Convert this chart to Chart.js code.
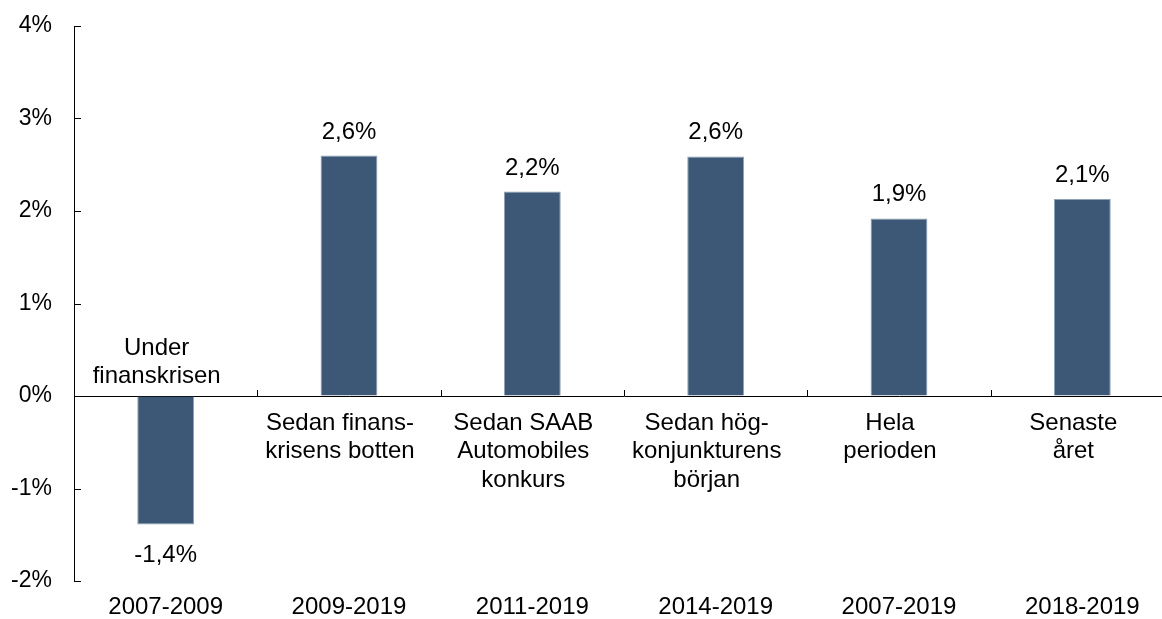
<!DOCTYPE html>
<html>
<head>
<meta charset="utf-8">
<script src="https://cdn.jsdelivr.net/npm/chart.js@4.4.1/dist/chart.umd.min.js"></script>
<style>
    html, body { margin: 0; padding: 0; background: #fff; overflow: hidden; }
    #wrap { position: relative; width: 1174px; height: 619px; }
</style>
</head>
<body>
<div id="wrap"><canvas id="growthChart"></canvas></div>
<script>
// Chart data
const periods = ['2007-2009', '2009-2019', '2011-2019', '2014-2019', '2007-2019', '2018-2019'];
const periodNames = [
    ['Under', 'finanskrisen'],
    ['Sedan finans-', 'krisens botten'],
    ['Sedan SAAB', 'Automobiles', 'konkurs'],
    ['Sedan hög-', 'konjunkturens', 'början'],
    ['Hela', 'perioden'],
    ['Senaste', 'året']
];
const growth = [-1.39, 2.60, 2.21, 2.59, 1.92, 2.13];
const yTicks = [-2, -1, 0, 1, 2, 3, 4];

const FONT = '"Liberation Sans", Arial, sans-serif';

function formatPct(v) {
    return v.toFixed(1).replace('.', ',') + '%';
}

// Draws inner tick marks, labels inside the plot and value labels
const annotatePlugin = {
    id: 'annotate',
    afterDatasetsDraw(chart) {
        const ctx = chart.ctx;
        const x = chart.scales.x;
        const y = chart.scales.y;
        const area = chart.chartArea;
        const zero = y.getPixelForValue(0);

        ctx.save();
        ctx.strokeStyle = '#000';
        ctx.lineWidth = 1;

        // y ticks pointing into the plot
        yTicks.forEach(v => {
            const py = Math.round(y.getPixelForValue(v)) + 0.5;
            ctx.beginPath();
            ctx.moveTo(area.left, py);
            ctx.lineTo(area.left + 7, py);
            ctx.stroke();
        });

        // category boundary ticks on the zero line
        for (let i = 0; i < periods.length; i++) {
            const bx = Math.round((x.getPixelForValue(i) + x.getPixelForValue(i + 1)) / 2) + 0.5;
            ctx.beginPath();
            ctx.moveTo(bx, zero);
            ctx.lineTo(bx, zero - 6);
            ctx.stroke();
        }

        ctx.fillStyle = '#000';
        ctx.font = '24px ' + FONT;
        ctx.textAlign = 'center';
        ctx.textBaseline = 'alphabetic';

        growth.forEach((v, i) => {
            const cx = x.getPixelForValue(i);
            const top = y.getPixelForValue(v);
            const lines = periodNames[i];
            // period names sit a little left of the bar centre
            const nx = cx - 9;
            if (v < 0) {
                ctx.fillText(formatPct(v), cx, top + 37);
                lines.forEach((t, j) => {
                    ctx.fillText(t, nx, zero - 13 - (lines.length - 1 - j) * 28.3);
                });
            } else {
                ctx.fillText(formatPct(v), cx, top - 17);
                lines.forEach((t, j) => {
                    ctx.fillText(t, nx, zero + 34 + j * 28.3);
                });
            }
        });
        ctx.restore();
    }
};

const ctx = document.getElementById('growthChart');
new Chart(ctx, {
    type: 'bar',
    data: {
        labels: periods,
        datasets: [{
            data: growth,
            backgroundColor: '#3c5876',
            borderColor: '#8da0b5',
            borderWidth: 1,
            barPercentage: 0.31,
            categoryPercentage: 1
        }]
    },
    options: {
        responsive: true,
        maintainAspectRatio: false,
        animation: false,
        devicePixelRatio: 1,
        layout: { padding: { top: 26, right: 0, bottom: 0, left: 0 } },
        plugins: {
            legend: { display: false },
            tooltip: { enabled: false }
        },
        scales: {
            x: {
                grid: { display: false, drawTicks: false },
                border: { display: false },
                ticks: {
                    color: '#000',
                    font: { family: FONT, size: 24 },
                    padding: 12,
                    maxRotation: 0,
                    autoSkip: false
                },
                afterFit(scale) {
                    scale.height = 38;
                    scale.paddingLeft = 0;
                    scale.paddingRight = 0;
                }
            },
            y: {
                min: -2,
                max: 4,
                grid: {
                    drawTicks: false,
                    color: c => (c.tick && c.tick.value === 0 ? '#000' : 'rgba(0,0,0,0)'),
                    lineWidth: 1
                },
                border: { display: true, color: '#000', width: 1 },
                ticks: {
                    stepSize: 1,
                    color: '#000',
                    font: { family: FONT, size: 23 },
                    padding: 22,
                    callback: v => v + '%'
                },
                afterFit(scale) {
                    scale.width = 74;
                    scale.paddingTop = 0;
                    scale.paddingBottom = 0;
                }
            }
        }
    },
    plugins: [annotatePlugin]
});
</script>
</body>
</html>
